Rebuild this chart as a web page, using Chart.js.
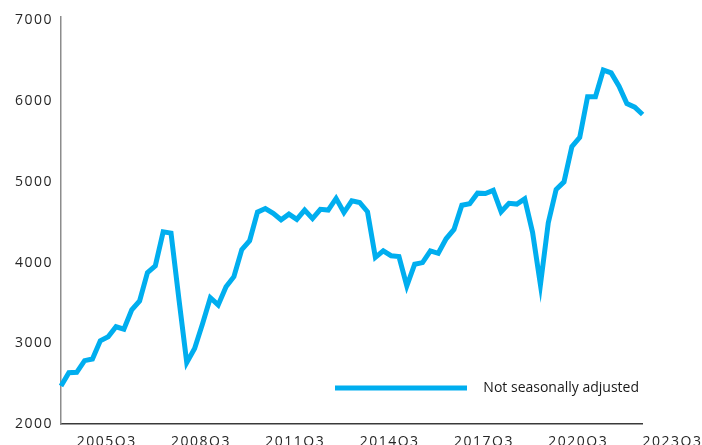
<!DOCTYPE html>
<html>
<head>
<meta charset="utf-8">
<script src="https://cdn.jsdelivr.net/npm/chart.js@4.4.0/dist/chart.umd.min.js"></script>
<style>
html,body{margin:0;padding:0;background:#fff;overflow:hidden}
canvas{display:block}
</style>
</head>
<body>
<canvas id="c" width="702" height="445"></canvas>
<script>
// Quarters shown on the category axis
const categories = [
  '2005Q1','2005Q2','2005Q3','2005Q4','2006Q1','2006Q2','2006Q3','2006Q4',
  '2007Q1','2007Q2','2007Q3','2007Q4','2008Q1','2008Q2','2008Q3','2008Q4',
  '2009Q1','2009Q2','2009Q3','2009Q4','2010Q1','2010Q2','2010Q3','2010Q4',
  '2011Q1','2011Q2','2011Q3','2011Q4','2012Q1','2012Q2','2012Q3','2012Q4',
  '2013Q1','2013Q2','2013Q3','2013Q4','2014Q1','2014Q2','2014Q3','2014Q4',
  '2015Q1','2015Q2','2015Q3','2015Q4','2016Q1','2016Q2','2016Q3','2016Q4',
  '2017Q1','2017Q2','2017Q3','2017Q4','2018Q1','2018Q2','2018Q3','2018Q4',
  '2019Q1','2019Q2','2019Q3','2019Q4','2020Q1','2020Q2','2020Q3','2020Q4',
  '2021Q1','2021Q2','2021Q3','2021Q4','2022Q1','2022Q2','2022Q3','2022Q4',
  '2023Q1','2023Q2','2023Q3'
];

// Not seasonally adjusted series
const seriesValues = [
  2470, 2635, 2640, 2785, 2805, 3030, 3080, 3205,
  3175, 3415, 3525, 3875, 3960, 4380, 4365, 3550,
  2760, 2935, 3240, 3565, 3475, 3700, 3825, 4160,
  4270, 4625, 4670, 4610, 4530, 4600, 4535, 4650,
  4545, 4660, 4650, 4795, 4620, 4765, 4745, 4630,
  4065, 4145, 4085, 4075, 3710, 3980, 4000, 4145,
  4115, 4295, 4410, 4710, 4730, 4860, 4855, 4895,
  4630, 4735, 4725, 4790, 4375, 3725, 4495, 4905,
  5000, 5435, 5550, 6055, 6055, 6385, 6350, 6185,
  5970, 5925, 5835
];

const seriesName = 'Not seasonally adjusted';
const xTickLabels = ['2005Q3','2008Q3','2011Q3','2014Q3','2017Q3','2020Q3','2023Q3'];
const yTickValues = [2000, 3000, 4000, 5000, 6000, 7000];

const LINE_COLOR = '#00AEEF';
const TEXT_COLOR = '#262626';
const FONT = {family: "'Open Sans', sans-serif", size: 14};

const tweaks = {
  id: 'tweaks',
  beforeDraw(chart) { chart.ctx.letterSpacing = '0px'; },
  afterDatasetsDraw(chart) { chart.ctx.letterSpacing = '1.5px'; },
  afterDraw(chart) { chart.ctx.letterSpacing = '0px'; },
  afterLayout(chart) {
    const lg = chart.legend;
    if (!lg) return;
    lg.left = 325; lg.right = 639; lg.top = 371; lg.bottom = 405;
    lg.width = lg.right - lg.left; lg.height = lg.bottom - lg.top;
  }
};

new Chart(document.getElementById('c'), {
  type: 'line',
  data: {
    labels: categories,
    datasets: [{
      label: seriesName,
      data: seriesValues,
      borderColor: LINE_COLOR,
      backgroundColor: LINE_COLOR,
      borderWidth: 5,
      pointRadius: 0,
      pointHoverRadius: 0,
      tension: 0,
      fill: false
    }]
  },
  options: {
    responsive: false,
    animation: false,
    devicePixelRatio: 1,
    events: [],
    layout: {padding: {top: 16, right: 0, bottom: 0, left: 0}},
    plugins: {
      tooltip: {enabled: false},
      title: {display: false},
      legend: {
        display: true,
        position: 'chartArea',
        align: 'start',
        labels: {
          usePointStyle: true,
          pointStyle: 'line',
          pointStyleWidth: 132,
          textAlign: 'right',
          padding: 10,
          color: '#1a1a1a',
          font: FONT
        }
      }
    },
    scales: {
      x: {
        type: 'category',
        grid: {display: false, drawTicks: false},
        border: {display: true, color: '#3a3a3a', width: 1.5},
        ticks: {
          autoSkip: false,
          maxRotation: 0,
          minRotation: 0,
          align: 'start',
          padding: 10,
          color: TEXT_COLOR,
          font: FONT,
          z: 1,
          callback(v) {
            const lab = this.getLabelForValue(v);
            return xTickLabels.includes(lab) ? lab : '';
          }
        },
        afterFit(s) { s.height = 21; s.paddingRight = 59.4; s.paddingLeft = 0; }
      },
      y: {
        type: 'linear',
        min: 2000,
        max: 7050,
        grid: {display: false, drawTicks: false},
        border: {display: true, color: '#8c8c8c', width: 1.5},
        ticks: {
          padding: 8,
          color: TEXT_COLOR,
          font: FONT,
          z: 1,
          callback: (v) => String(v)
        },
        afterBuildTicks(s) { s.ticks = yTickValues.map(v => ({value: v})); },
        afterFit(s) { s.width = 61; }
      }
    }
  },
  plugins: [tweaks]
});
</script>
</body>
</html>
